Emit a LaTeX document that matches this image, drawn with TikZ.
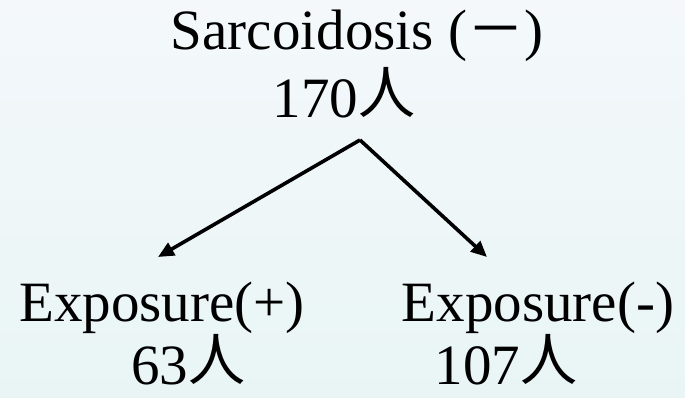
\documentclass[tikz,border=0pt]{standalone}
\usepackage{fontspec}
\setmainfont{Liberation Serif}
\newfontfamily\cjk{Noto Sans CJK JP}
\usetikzlibrary{arrows.meta}
\definecolor{bgtop}{HTML}{F4F8FB}
\definecolor{bgbot}{HTML}{E9F5F5}
\newcommand{\ren}{\raisebox{4pt}{\cjk 人}}
\tikzset{
  lbl/.style={anchor=base, inner sep=0pt, font=\fontsize{57}{57}\selectfont, text=black},
  conn/.style={line width=3.6pt, -{Triangle[length=16pt,width=14pt]}, black}
}
\begin{document}
\begin{tikzpicture}[x=1pt,y=-1pt]
\useasboundingbox (0,0) rectangle (685,397);
\fill[top color=bgtop, bottom color=bgbot, draw=none] (0,0) rectangle (685,397);
\node[lbl] (sarc) at (357,49) {Sarcoidosis ({\cjk －})};
\node[lbl] (n170) at (344,117) {170\ren};
\node[lbl] (expp) at (162,321) {Exposure(+)};
\node[lbl] (n63) at (188,384) {63\ren};
\node[lbl] (expm) at (538,321) {Exposure(-)};
\node[lbl] (n107) at (506,384) {107\ren};
\coordinate (apex) at (360,140);
\coordinate (tipL) at (158,257);
\coordinate (tipR) at (487,257);
\draw[conn] (apex) -- (tipL);
\draw[conn] (apex) -- (tipR);
\end{tikzpicture}
\end{document}
